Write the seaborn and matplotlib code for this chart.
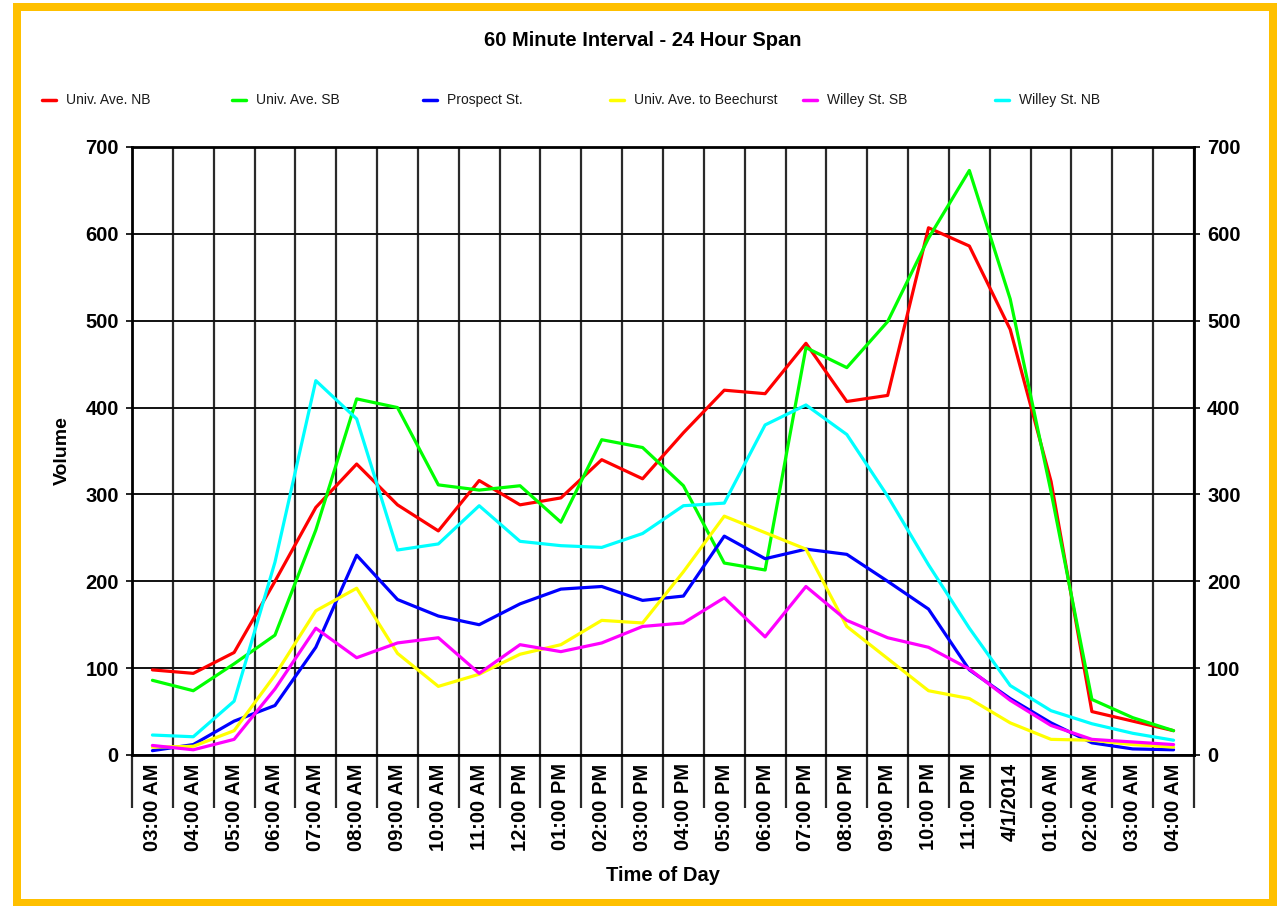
import matplotlib
matplotlib.use("Agg")
import matplotlib.pyplot as plt
from matplotlib.lines import Line2D
from matplotlib.patches import Rectangle
from matplotlib.ticker import FixedLocator
import numpy as np
import pandas as pd
import seaborn as sns

# ---------------- data ----------------
time_labels = ["03:00 AM", "04:00 AM", "05:00 AM", "06:00 AM", "07:00 AM", "08:00 AM",
               "09:00 AM", "10:00 AM", "11:00 AM", "12:00 PM", "01:00 PM", "02:00 PM",
               "03:00 PM", "04:00 PM", "05:00 PM", "06:00 PM", "07:00 PM", "08:00 PM",
               "09:00 PM", "10:00 PM", "11:00 PM", "4/1/2014", "01:00 AM", "02:00 AM",
               "03:00 AM", "04:00 AM"]

series_names = ["Univ. Ave. NB", "Univ. Ave. SB", "Prospect St.",
                "Univ. Ave. to Beechurst", "Willey St. SB", "Willey St. NB"]

univ_nb = [98, 94, 118, 200, 285, 335, 288, 258, 316, 288, 296, 340, 318, 371, 420, 416,
           474, 407, 414, 607, 586, 490, 315, 50, 39, 28]
univ_sb = [86, 74, 105, 138, 259, 410, 400, 311, 305, 310, 268, 363, 354, 310, 221, 213,
           469, 446, 499, 595, 673, 525, 303, 64, 43, 28]
prospect = [5, 12, 39, 57, 124, 230, 179, 160, 150, 174, 191, 194, 178, 183, 252, 226,
            237, 231, 200, 168, 98, 65, 37, 14, 7, 6]
beechurst = [9, 10, 28, 92, 166, 192, 117, 79, 93, 116, 127, 155, 152, 211, 275, 256,
             237, 148, 111, 74, 65, 37, 18, 17, 12, 9]
willey_sb = [11, 6, 18, 76, 146, 112, 129, 135, 94, 127, 119, 129, 148, 152, 181, 136,
             194, 155, 135, 124, 99, 63, 34, 18, 15, 12]
willey_nb = [23, 21, 62, 222, 431, 387, 236, 243, 287, 246, 241, 239, 255, 287, 290, 380,
             403, 369, 298, 219, 146, 80, 51, 36, 25, 17]

series_values = [univ_nb, univ_sb, prospect, beechurst, willey_sb, willey_nb]
series_colors = ["#FF0000", "#00FF00", "#0000FF", "#FFFF00", "#FF00FF", "#00FFFF"]
y_ticks = [0, 100, 200, 300, 400, 500, 600, 700]

# ---------------- style ----------------
sns.set_style("white")
plt.rcParams["font.family"] = ["Liberation Sans", "DejaVu Sans"]
plt.rcParams["text.color"] = "black"
plt.rcParams["axes.labelcolor"] = "black"
plt.rcParams["xtick.color"] = "black"
plt.rcParams["ytick.color"] = "black"

W, H = 1278, 906
fig = plt.figure(figsize=(W / 100, H / 100), dpi=100)
fig.patch.set_facecolor("white")

L, R, T, B = 132, 1194, 147, 755
ax = fig.add_axes([L / W, 1 - B / H, (R - L) / W, (B - T) / H])

idx = np.arange(len(time_labels))
frames = []
for name, vals in zip(series_names, series_values):
    frames.append(pd.DataFrame({"idx": idx, "Volume": vals, "Series": name}))
df = pd.concat(frames, ignore_index=True)

sns.lineplot(data=df, x="idx", y="Volume", hue="Series", hue_order=series_names,
             palette=dict(zip(series_names, series_colors)), linewidth=2.3,
             ax=ax, legend=False, sort=False)

ax.set_xlim(-0.5, len(time_labels) - 0.5)
ax.set_ylim(0, 700)

# x ticks: labels at centers, long minor ticks at boundaries
ax.set_xticks(idx)
ax.set_xticklabels(time_labels, rotation=90, fontsize=14.5, fontweight="bold")
ax.xaxis.set_minor_locator(FixedLocator(np.arange(-0.5, len(time_labels), 1.0)))
ax.tick_params(axis="x", which="major", length=0, pad=6)
ax.tick_params(axis="x", which="minor", length=38, width=1.6, color="#2a2a2a",
               direction="out", bottom=True)

# y ticks both sides
ax.set_yticks(y_ticks)
ax.set_yticklabels([str(v) for v in y_ticks], fontsize=14.5, fontweight="bold")
ax.tick_params(axis="y", which="major", length=4.5, width=1.2, pad=5,
               left=True, right=True, labelleft=True, labelright=True, direction="out")

# grid
ax.set_axisbelow(True)
ax.grid(which="major", axis="y", color="#111111", linewidth=1.4)
ax.grid(which="minor", axis="x", color="#2a2a2a", linewidth=1.6)
ax.grid(which="major", axis="x", visible=False)

for s in ax.spines.values():
    s.set_color("black")
    s.set_linewidth(2)

ax.set_xlabel("Time of Day", fontsize=14.5, fontweight="bold")
ax.set_ylabel("Volume", fontsize=14, fontweight="bold")
ax.xaxis.set_label_coords((663 - L) / (R - L), (B - 866) / (B - T))
ax.xaxis.label.set_va("top")
ax.yaxis.set_label_coords((71 - L) / (R - L), 0.5)

# title
fig.text(643 / W, 1 - 40 / H, "60 Minute Interval - 24 Hour Span",
         ha="center", va="center", fontsize=14.5, fontweight="bold")

# legend (manual row)
leg_x = [42, 232, 423, 610, 803, 995]
leg_y = 1 - 100 / H
for x0, name, col in zip(leg_x, series_names, series_colors):
    fig.add_artist(Line2D([x0 / W, (x0 + 14) / W], [leg_y, leg_y], color=col,
                          linewidth=2.5, transform=fig.transFigure))
    fig.text((x0 + 24) / W, leg_y, name, ha="left", va="center", fontsize=10,
             color="#1a1a1a")

# gold frame
lw_px = 8
fig.add_artist(Rectangle((17 / W, 1 - 902.5 / H), (1272.5 - 17) / W, (902.5 - 7) / H,
                         transform=fig.transFigure, fill=False, edgecolor="#FFC000",
                         linewidth=lw_px * 0.72, zorder=10))

fig.savefig("out.png", dpi=100, facecolor="white")
